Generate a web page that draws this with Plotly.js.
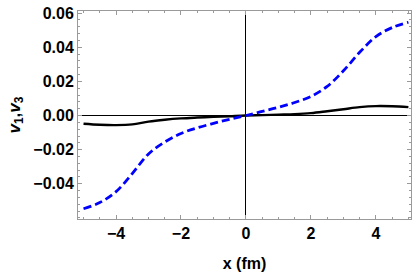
<!DOCTYPE html>
<html><head><meta charset="utf-8">
<script src="https://cdn.plot.ly/plotly-3.0.1.min.js"></script>
<style>html,body{margin:0;padding:0;background:#fff;}#chart{width:415px;height:273px;}</style>
</head><body><div id="chart"></div>
<script>
const xVals = [-5,-4.5,-4,-3.5,-3,-2.5,-2,-1.5,-1,-0.5,0,0.5,1,1.5,2,2.5,3,3.5,4,4.5,5];
const v1 = [-0.0048,-0.0054,-0.0056,-0.0052,-0.0036,-0.0025,-0.0017,-0.0012,-0.0008,-0.0004,0,0.0002,0.0005,0.0008,0.0014,0.0025,0.0037,0.0049,0.0055,0.0054,0.0049];
const v3 = [-0.0546,-0.0510,-0.0446,-0.0340,-0.0225,-0.0155,-0.0105,-0.0072,-0.0046,-0.0022,0,0.0024,0.0048,0.0076,0.0112,0.0170,0.0262,0.0370,0.0462,0.0515,0.0546];
const xTicks = [-4,-2,0,2,4];
const yTicks = [-0.04,-0.02,0,0.02,0.04,0.06];

const frame = '#9a9a9a';
const font = {family:'Liberation Sans, Arial, sans-serif', size:16, color:'#000', weight:'bold'};
Plotly.newPlot('chart', [
  {x:xVals, y:v1, mode:'lines', line:{color:'#000', width:2.4, shape:'spline'}, hoverinfo:'none'},
  {x:xVals, y:v3, mode:'lines', line:{color:'#0000ff', width:2.8, dash:'8px,4px', shape:'spline'}, hoverinfo:'none'}
], {
  width:415, height:273,
  margin:{l:78, r:4, t:11, b:54},
  showlegend:false,
  paper_bgcolor:'#fff', plot_bgcolor:'#fff',
  font: font,
  xaxis:{
    range:[-5.17,5.08], tickvals:xTicks, ticktext:xTicks.map(v=>v<0?'\u2212'+Math.abs(v):String(v)),
    ticks:'inside', ticklen:4, tickcolor:frame, tickwidth:1,
    minor:{dtick:0.5, tick0:0, ticks:'inside', ticklen:2, tickcolor:frame},
    showline:true, linecolor:frame, linewidth:1, mirror:'ticks',
    showgrid:false, zeroline:true, zerolinecolor:'#000', zerolinewidth:1,
    tickfont:font,
    title:{text:'x (fm)', font:font, standoff:16}
  },
  yaxis:{
    range:[-0.0606,0.0612], tickvals:yTicks,
    ticktext:yTicks.map(v=>(v<0?'\u2212':'')+Math.abs(v).toFixed(2)),
    ticks:'inside', ticklen:4, tickcolor:frame, tickwidth:1,
    minor:{dtick:0.004, tick0:0, ticks:'inside', ticklen:2, tickcolor:frame},
    showline:true, linecolor:frame, linewidth:1, mirror:'ticks',
    showgrid:false, zeroline:true, zerolinecolor:'#000', zerolinewidth:1,
    tickfont:font,
    title:{text:'<i>v</i><sub>1</sub>,<i>v</i><sub>3</sub>', font:{family:'Liberation Sans, Arial, sans-serif', size:17, color:'#000', weight:'bold'}, standoff:8}
  }
}, {staticPlot:true});
</script></body></html>
